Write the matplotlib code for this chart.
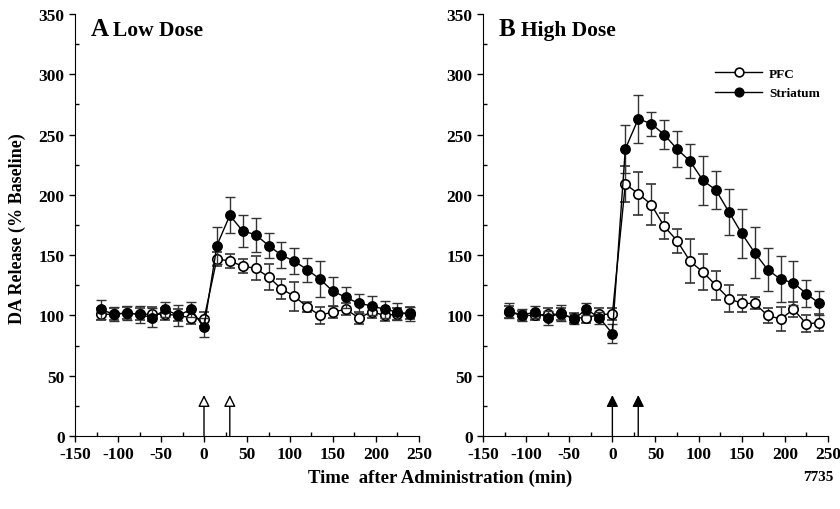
import numpy as np
import matplotlib
matplotlib.use("Agg")
import matplotlib.pyplot as plt
from matplotlib.ticker import MultipleLocator
from matplotlib.lines import Line2D

plt.rcParams['font.family'] = ['Liberation Serif', 'DejaVu Serif']
plt.rcParams['font.weight'] = 'bold'
plt.rcParams['axes.unicode_minus'] = False

# sampling times (min), every 15 min
t = np.arange(-120, 241, 15)

# A: low dose
low_str = [105, 101, 102, 101, 98, 105, 100, 105, 90, 158, 183, 170, 167, 158, 150, 145, 138, 130, 120, 115, 110, 108, 105, 103, 101]
low_str_err = [8, 6, 6, 7, 8, 6, 9, 6, 8, 15, 15, 13, 14, 10, 11, 11, 10, 15, 12, 9, 8, 8, 7, 7, 6]
low_pfc = [101, 101, 102, 101, 101, 101, 100, 98, 97, 147, 145, 141, 139, 132, 122, 116, 107, 100, 103, 105, 98, 103, 100, 101, 102]
low_pfc_err = [5, 5, 5, 5, 6, 5, 5, 5, 6, 6, 6, 6, 10, 11, 8, 12, 4, 7, 5, 5, 5, 5, 5, 5, 5]

# B: high dose
high_str = [104, 100, 103, 98, 102, 97, 105, 98, 85, 238, 263, 259, 250, 238, 228, 212, 204, 186, 168, 152, 138, 130, 127, 118, 110]
high_str_err = [6, 5, 5, 6, 7, 4, 5, 5, 8, 20, 20, 10, 12, 15, 14, 20, 16, 19, 20, 21, 18, 19, 18, 11, 10]
high_pfc = [103, 100, 100, 101, 101, 98, 98, 101, 101, 209, 201, 192, 174, 162, 145, 136, 125, 114, 110, 110, 100, 97, 105, 93, 94]
high_pfc_err = [5, 4, 4, 5, 5, 4, 4, 5, 5, 15, 18, 17, 11, 10, 18, 15, 12, 11, 7, 5, 6, 10, 6, 7, 7]

arrow_times = [0, 30]

fig = plt.figure(figsize=(8.4, 5.1), dpi=100)
axA = fig.add_axes([0.0893, 0.1431, 0.4095, 0.8275])
axB = fig.add_axes([0.575, 0.1431, 0.4107, 0.8275])

MS = 6.8


def draw_panel(ax, s, s_err, p, p_err, letter, name, arrow_fc):
    ax.errorbar(t, p, yerr=p_err, color='black', ecolor='#333333', elinewidth=1,
                capsize=3.5, capthick=1, lw=1, marker='o', ms=MS, mfc='white',
                mec='black', mew=1.2, zorder=3)
    ax.errorbar(t, s, yerr=s_err, color='black', ecolor='#333333', elinewidth=1,
                capsize=3.5, capthick=1, lw=1, marker='o', ms=MS, mfc='black',
                mec='black', zorder=4)
    for a in arrow_times:
        ax.annotate('', xy=(a, 34), xytext=(a, 0),
                    arrowprops=dict(arrowstyle='-|>,head_length=0.5,head_width=0.25',
                                    lw=1, color='black', fc=arrow_fc,
                                    mutation_scale=14, shrinkA=0, shrinkB=0))
    ax.set_xlim(-150, 250)
    ax.set_ylim(0, 350)
    ax.xaxis.set_major_locator(MultipleLocator(50))
    ax.xaxis.set_minor_locator(MultipleLocator(25))
    ax.yaxis.set_major_locator(MultipleLocator(50))
    ax.yaxis.set_minor_locator(MultipleLocator(25))
    ax.tick_params(which='major', direction='out', length=4, width=1, labelsize=12.5)
    ax.tick_params(which='minor', direction='in', length=3, width=1)
    for lab in ax.get_xticklabels() + ax.get_yticklabels():
        lab.set_fontweight('bold')
    ax.spines['top'].set_visible(False)
    ax.spines['right'].set_visible(False)
    ax.text(0.045, 0.994, letter, transform=ax.transAxes, fontsize=18,
            fontweight='bold', va='top', ha='left')
    ax.text(0.11, 0.986, name, transform=ax.transAxes, fontsize=15.5,
            fontweight='bold', va='top', ha='left')


draw_panel(axA, low_str, low_str_err, low_pfc, low_pfc_err, 'A', 'Low Dose', 'white')
draw_panel(axB, high_str, high_str_err, high_pfc, high_pfc_err, 'B', 'High Dose', 'black')

handles = [Line2D([], [], color='black', lw=1, marker='o', ms=MS - 0.5, mfc='white', mec='black', mew=1.2),
           Line2D([], [], color='black', lw=1, marker='o', ms=MS - 0.5, mfc='black', mec='black')]
axB.legend(handles, ['PFC', 'Striatum'], loc='upper left', bbox_to_anchor=(0.645, 0.895),
           frameon=False, handlelength=3.6, prop={'size': 9.5, 'weight': 'bold'},
           labelspacing=0.55, handletextpad=0.5, borderpad=0.2)

fig.text(0.021, 0.551, 'DA Release (% Baseline)', rotation=90, fontsize=13,
         fontweight='bold', va='center', ha='center')
fig.text(0.524, 0.063, 'Time  after Administration (min)', fontsize=13.5,
         fontweight='bold', va='center', ha='center')
fig.text(0.992, 0.063, '7735', fontsize=11, fontweight='bold', va='center', ha='right')

fig.savefig('out.png', dpi=100)
